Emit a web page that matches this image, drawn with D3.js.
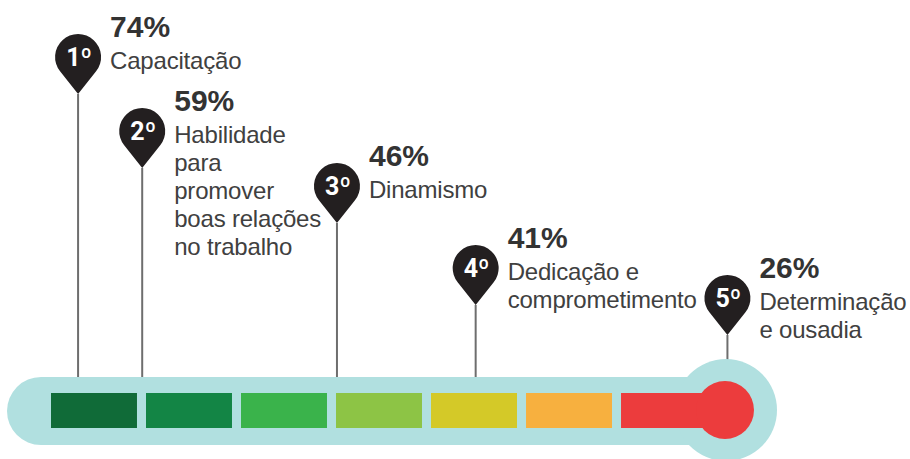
<!DOCTYPE html>
<html>
<head>
<meta charset="utf-8">
<script src="https://cdn.jsdelivr.net/npm/d3@7"></script>
<style>
body { margin: 0; background: #fff; }
svg { display: block; font-family: "Liberation Sans", Arial, sans-serif; }
</style>
</head>
<body>
<script>
//ranking data
var ranks = ["1º", "2º", "3º", "4º", "5º"];
var values = [74, 59, 46, 41, 26];
var labels = [
    ["Capacitação"],
    ["Habilidade", "para", "promover", "boas relações", "no trabalho"],
    ["Dinamismo"],
    ["Dedicação e", "comprometimento"],
    ["Determinação", "e ousadia"]
];
var segColors = ["#106b38", "#138545", "#3ab34b", "#8dc445", "#d4c928", "#f7b03f", "#ec3c3d"];

//layout: where each pin stands along the tube (in segment units) and how high its head sits
var pinStop = [0.285, 0.96, 3.01, 4.47, 7.12];
var pinHeadY = [57, 131, 186, 268, 298];

var width = 910,
    height = 459;

//thermometer frame
var tubeTop = 377,
    tubeH = 68,
    tubeLeft = 7,
    segTop = 393,
    segH = 35,
    bulbCx = 726,
    bulbCy = 410,
    bulbR = 51,
    redR = 29;

var svg = d3.select("body")
    .append("svg")
    .attr("width", width)
    .attr("height", height);

//one band per colour segment
var segScale = d3.scaleBand()
    .domain(d3.range(segColors.length))
    .range([51, 707])
    .paddingInner(0.095)
    .paddingOuter(0);

//tube position (segment units) to pixels
var tubeX = d3.scaleLinear()
    .domain([0, 1])
    .range([51, 51 + segScale.step()]);

var pinR = 23,
    pinTip = 37,
    textGap = 32;

var pins = ranks.map(function(r, i){
    return {rank: r, value: values[i], lines: labels[i],
            x: tubeX(pinStop[i]), cy: pinHeadY[i]};
});

//stems first so the tube covers their ends
svg.selectAll(".stem")
    .data(pins)
    .enter()
    .append("line")
    .attr("class", "stem")
    .attr("x1", function(d){ return d.x; })
    .attr("x2", function(d){ return d.x; })
    .attr("y1", function(d){ return d.cy + pinTip; })
    .attr("y2", tubeTop + 4)
    .attr("stroke", "#6e6e6e")
    .attr("stroke-width", 2);

//tube and bulb
svg.append("rect")
    .attr("x", tubeLeft)
    .attr("y", tubeTop)
    .attr("width", bulbCx - tubeLeft)
    .attr("height", tubeH)
    .attr("rx", tubeH / 2)
    .attr("fill", "#b1e0e0");

svg.append("circle")
    .attr("cx", bulbCx)
    .attr("cy", bulbCy)
    .attr("r", bulbR)
    .attr("fill", "#b1e0e0");

//colour segments, last one runs into the bulb
svg.selectAll(".seg")
    .data(segColors)
    .enter()
    .append("rect")
    .attr("class", "seg")
    .attr("x", function(d, i){ return segScale(i); })
    .attr("y", segTop)
    .attr("width", function(d, i){
        return i == segColors.length - 1 ? bulbCx - segScale(i) : segScale.bandwidth();
    })
    .attr("height", segH)
    .attr("fill", function(d){ return d; });

svg.append("circle")
    .attr("cx", bulbCx - 1)
    .attr("cy", bulbCy)
    .attr("r", redR)
    .attr("fill", segColors[segColors.length - 1]);

//pin heads
function pinPath(d){
    var phi = Math.acos(pinR / pinTip);
    var dx = pinR * Math.sin(phi), dy = pinR * Math.cos(phi);
    return "M" + d.x + "," + (d.cy + pinTip) +
        "L" + (d.x + dx) + "," + (d.cy + dy) +
        "A" + pinR + "," + pinR + " 0 1 0 " + (d.x - dx) + "," + (d.cy + dy) + "Z";
}

var g = svg.selectAll(".pin")
    .data(pins)
    .enter()
    .append("g")
    .attr("class", "pin");

g.append("path")
    .attr("d", pinPath)
    .attr("fill", "#231f20");

g.append("text")
    .attr("x", function(d){ return d.x + 1; })
    .attr("y", function(d){ return d.cy + 9; })
    .attr("text-anchor", "middle")
    .attr("fill", "#fff")
    .style("font-family", "Roboto, 'Liberation Sans', sans-serif")
    .style("font-weight", "bold")
    .style("font-size", "25px")
    .text(function(d){ return d.rank; });

//percentage
g.append("text")
    .attr("x", function(d){ return d.x + textGap; })
    .attr("y", function(d){ return d.cy - 20; })
    .attr("fill", "#333")
    .style("font-weight", "bold")
    .style("font-size", "30px")
    .text(function(d){ return d.value + "%"; });

//label lines
g.append("text")
    .attr("fill", "#404040")
    .style("font-size", "24px")
    .style("letter-spacing", "-0.2px")
    .selectAll("tspan")
    .data(function(d){
        return d.lines.map(function(t, k){ return {t: t, x: d.x + textGap, y: d.cy + 12 + k * 28}; });
    })
    .enter()
    .append("tspan")
    .attr("x", function(d){ return d.x; })
    .attr("y", function(d){ return d.y; })
    .text(function(d){ return d.t; });
</script>
</body>
</html>
